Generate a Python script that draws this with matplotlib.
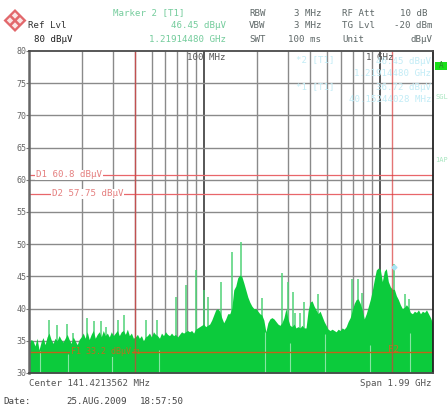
import numpy as np
import matplotlib
matplotlib.use("Agg")
import matplotlib.pyplot as plt
from matplotlib.patches import Polygon

#%% DATA

f_start = 10 # MHz
f_stop = 2000 # MHz

# trace, one value per sweep bin (dBuV)
level = [
    34.5,35.2,35.0,34.2,35.4,33.6,34.8,35.5,34.4,35.6,
    36.2,35.2,34.6,35.4,35.0,35.8,35.2,34.8,35.4,36.0,
    35.2,34.6,35.6,35.0,34.4,35.2,35.6,36.2,35.4,36.4,
    35.2,36.0,36.6,35.4,36.0,36.4,35.6,36.6,35.8,36.2,
    35.6,36.4,35.8,36.2,36.6,35.8,36.4,36.6,36.0,36.8,
    35.8,36.2,35.4,35.6,36.0,35.4,35.8,35.0,35.6,35.8,
    36.2,35.6,36.4,36.0,35.8,35.4,36.2,35.8,36.4,36.0,
    35.8,36.2,35.8,36.0,35.6,36.0,36.4,36.2,36.4,36.6,
    36.4,36.6,36.2,36.8,37.0,37.2,37.4,37.6,37.2,37.4,
    37.6,38.2,39.0,39.8,40.0,39.6,38.6,37.8,38.4,39.2,
    39.2,40.0,42.9,43.5,44.8,45.2,45.0,44.0,42.9,41.8,
    41.0,40.4,40.0,40.0,39.6,39.2,39.0,38.2,36.4,37.8,
    38.4,38.6,38.4,38.0,37.6,37.4,37.8,38.6,40.0,38.4,
    37.4,37.2,37.6,37.0,37.2,37.0,37.4,37.0,37.0,39.6,
    41.0,41.2,40.4,39.8,39.2,39.6,38.8,38.0,37.4,36.8,
    36.6,36.8,36.6,36.4,36.8,36.6,37.0,36.8,37.2,38.0,
    38.6,39.7,40.8,41.4,41.5,40.8,39.8,38.4,39.2,40.3,
    41.4,42.8,44.5,46.0,46.3,46.1,44.2,45.8,46.2,44.2,
    43.4,43.0,43.0,42.0,41.4,40.6,40.0,40.2,40.6,40.2,
    39.4,39.2,39.6,39.4,39.8,39.2,39.6,39.4,39.8,39.2,
    38.6,37.8,
]

# single narrow peaks above the trace
spike_f = [13.0,14.4,16.4,17.9,21.3,23.4,25.9,27.4,32.1,34.7,46.3,53.5,68.7,78.4,89.4,
           99.3,104.7,124,143.6,161.8,213,277,300,320,329,351,370,445,697,753,794,1210,1400,1475]
spike_top = [38.2,37.4,37.6,36.2,38.5,38.0,38.1,37.2,38.3,39.0,38.3,38.2,41.8,43.6,46.0,
             42.9,41.8,44.2,48.8,50.4,41.6,45.6,44.2,42.6,39.3,39.3,41.0,42.3,44.6,44.6,42.5,47.0,42.3,41.5]

# pale gaps in the trace
gap_f = [11.5,16.6,29.6,55,222,308,489,883,1493]
gap_top = [33.4,33.0,34.0,33.6,36.4,34.6,36.0,34.4,36.2]

yticks = [30,35,40,45,50,55,60,65,70,75,80]
grid_f = [20,30,40,50,60,70,80,90,200,300,400,500,600,700,800,900]
decade_f = [100,1000]

marker1_f = 40.15
marker2_f = 1180
d1 = 60.8
d2 = 57.75
f1 = 33.2

#%% FIGURE

W, H = 448, 405
fig = plt.figure(figsize=(W/100, H/100), dpi=100)
plt.rcParams['font.family'] = 'DejaVu Sans Mono'

ax = fig.add_axes([29/W, 1-373/H, (432.5-29)/W, (373-51)/H])
ax.set_xscale('log')
ax.set_xlim(f_start, f_stop)
ax.set_ylim(30, 80)

freq = np.geomspace(f_start, f_stop, len(level))

GREEN = '#0ccb3c'
ax.vlines(grid_f, 30, 80, color='#8a8a8a', lw=1, zorder=1)
ax.vlines(decade_f, 30, 80, color='#3a3a3a', lw=1.2, zorder=1)
ax.hlines(yticks[1:-1], f_start, f_stop, color='#8a8a8a', lw=1, zorder=1)

ax.vlines(spike_f, 30, spike_top, color='#4fd276', lw=1.1, zorder=2)
ax.fill_between(freq, 30, level, color=GREEN, lw=0, zorder=3)
ax.vlines(gap_f, 30, gap_top, color='#86e6a2', lw=0.8, zorder=4)

# display lines and markers
ax.hlines([d1, d2], f_start, f_stop, color='#e8666a', lw=0.9, zorder=5)
ax.hlines(f1, f_start, f_stop, color='#c0641a', lw=1, zorder=5)
ax.vlines([marker1_f, marker2_f], 30, 80, color='#d93a3a', lw=1, alpha=0.7, zorder=5)
ax.plot([1205], [46.45], 'D', ms=2.5, color='#a8e4f4', zorder=6)

ax.set_xticks([])
ax.minorticks_off()
ax.set_yticks(yticks)
ax.tick_params(axis='y', length=2, pad=0, width=0.8, color='#777777', labelsize=6, labelcolor='#666666')
for name, sp in ax.spines.items():
    sp.set_zorder(7)
    sp.set_color('#4a4a4a')
    sp.set_linewidth(1.3)
ax.spines['left'].set_color('#666666')
ax.spines['left'].set_linewidth(1.8)
ax.spines['right'].set_color('#222222')

#%% TEXT


def label(x, y, s, color='#555555', ha='left', size=6.6, **kw):
    return fig.text(x/W, 1-y/H, s, color=color, ha=ha, va='center', size=size,
                    family='DejaVu Sans Mono', zorder=10, **kw)


MINT = '#74cc9c'
label(113, 13, 'Marker 2 [T1]', MINT)
label(226, 26, '46.45 dBµV', MINT, ha='right')
label(226, 39, '1.21914480 GHz', MINT, ha='right')
label(28, 26, 'Ref Lvl', '#333333')
label(34, 39, '80 dBµV', '#222222')

GREY = '#5f6868'
label(249, 13, 'RBW', GREY)
label(249, 26, 'VBW', GREY)
label(249, 39, 'SWT', GREY)
label(321, 13, '3 MHz', GREY, ha='right')
label(321, 26, '3 MHz', GREY, ha='right')
label(321, 39, '100 ms', GREY, ha='right')
label(342, 13, 'RF Att', GREY)
label(342, 26, 'TG Lvl', GREY)
label(342, 39, 'Unit', GREY)
label(427, 13, '10 dB', GREY, ha='right')
label(432, 26, '-20 dBm', GREY, ha='right')
label(432, 39, 'dBµV', GREY, ha='right')

label(187, 57, '100 MHz', '#555555')
label(366, 57, '1 GHz', '#555555')

CYAN = '#c2ecf6'
label(296, 60, '*2 [T1]', CYAN)
label(431, 62, '46.45 dBµV', CYAN, ha='right')
label(431, 74, '1.21914480 GHz', CYAN, ha='right')
label(296, 87, '*1 [T1]', CYAN)
label(431, 87, '36.72 dBµV', CYAN, ha='right')
label(431, 99, '40.15244028 MHz', CYAN, ha='right')

box = dict(facecolor='white', edgecolor='none', pad=0.6)
label(36, 175, 'D1 60.8 dBµV', '#e58080', bbox=box)
label(52, 194, 'D2 57.75 dBµV', '#e58080', bbox=box)
label(71, 351.5, 'F1 33.2 dBµV', '#b8701e', size=6, bbox=dict(facecolor=GREEN, edgecolor='none', pad=0.4))
label(132, 352, 'F1', '#b8701e', size=5)
label(388, 349.5, 'F2', '#c0701e')

label(29, 383, 'Center 141.4213562 MHz', '#555555')
label(431, 383, 'Span 1.99 GHz', '#555555', ha='right')
label(3, 401, 'Date:', '#444444')
label(66, 401, '25.AUG.2009', '#444444')
label(140, 401, '18:57:50', '#444444')

# side enhancement labels
fig.patches.append(plt.Rectangle((435/W, 1-70/H), 12/W, 8/H, transform=fig.transFigure,
                                 facecolor='#18e018', edgecolor='none', figure=fig))
label(441, 66, 'A', '#2a8a2a', ha='center', size=5.5)
label(435, 97, 'SGL', '#a8e6c0', size=5)
label(435, 160, '1AP', '#a8e6c0', size=5)

# logo
def diamond(cx, cy, r, color):
    pts = [((cx+dx)/W, 1-(cy+dy)/H) for dx, dy in [(-r, 0), (0, -r), (r, 0), (0, r)]]
    fig.patches.append(Polygon(pts, closed=True, transform=fig.transFigure,
                               facecolor=color, edgecolor='none', figure=fig))


diamond(15, 20.5, 11.5, '#e2686c')
for dx, dy in [(-5, 0), (0, -5), (5, 0), (0, 5)]:
    diamond(15+dx, 20.5+dy, 3.2, '#fbe6e6')

fig.savefig('out.png', dpi=100, facecolor='white')
